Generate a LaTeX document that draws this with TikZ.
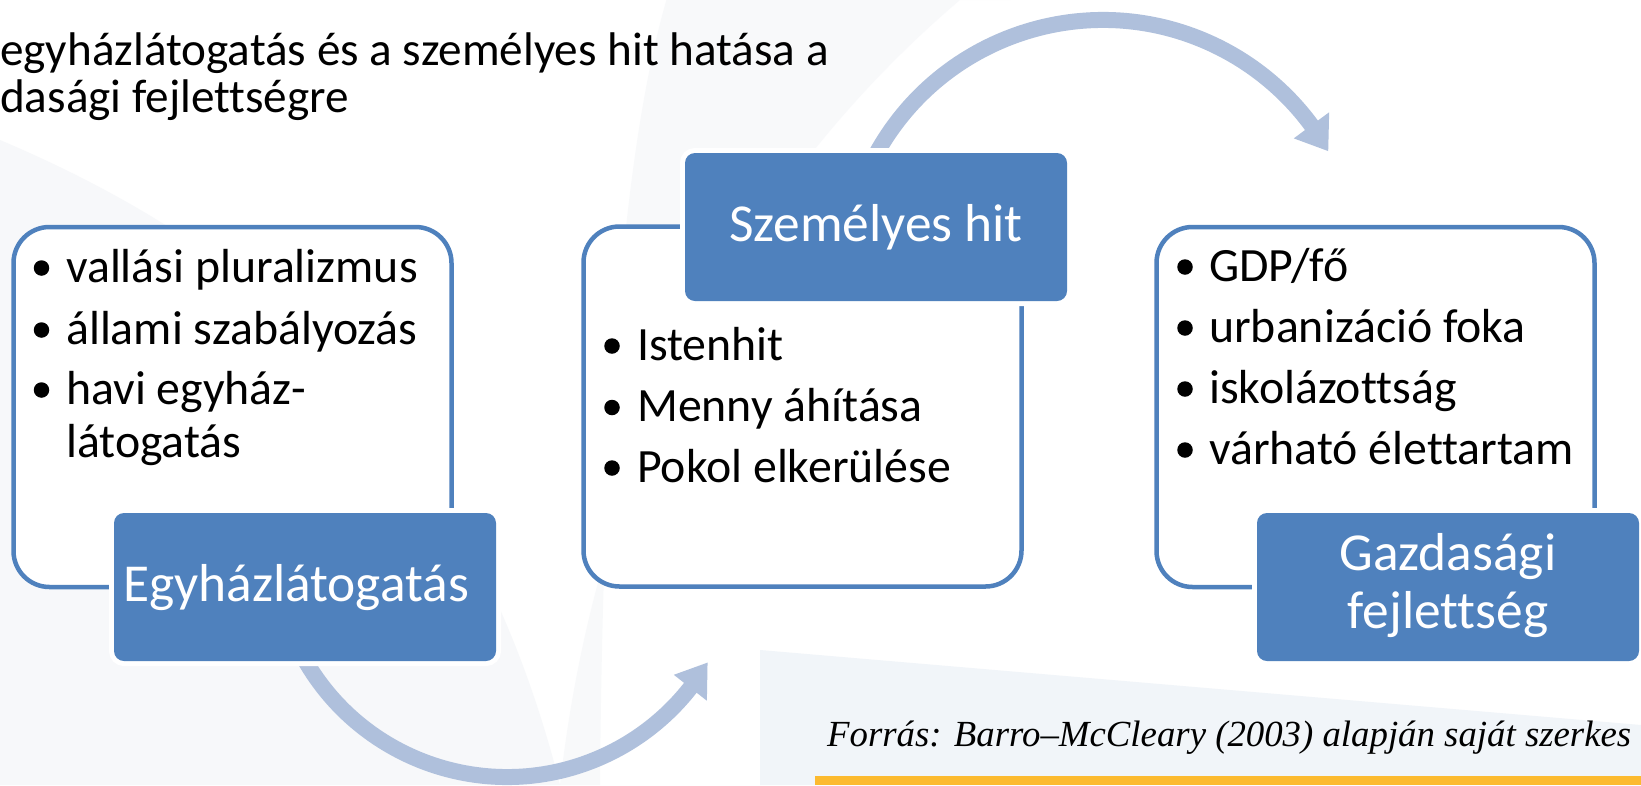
\documentclass[tikz,border=0pt]{standalone}
\usepackage{fontspec}
\setmainfont{Carlito}[Ligatures={NoCommon}]
\newfontfamily\srcfont{Liberation Serif}
\usetikzlibrary{arrows.meta}
\definecolor{accblue}{HTML}{4F81BD}
\definecolor{arcblue}{HTML}{AFC0DC}
\definecolor{barorange}{HTML}{FCBA2F}
\definecolor{bgshade}{HTML}{F2F4F7}
\definecolor{bgshadeb}{HTML}{F1F5F9}
\begin{document}
\begin{tikzpicture}[x=1pt,y=1pt,
  wbox/.style={draw=accblue, line width=4.5pt, fill=white, rounded corners=36pt,
    minimum width=438pt, minimum height=360pt, inner sep=0pt},
  bbox/.style={fill=accblue, rounded corners=10pt, minimum width=382pt,
    minimum height=148pt, inner sep=0pt, preaction={draw=white, line width=10pt}},
  btitle/.style={anchor=base, inner sep=0pt, text=white, font=\fontsize{53.4}{58}\selectfont},
  itemtxt/.style={anchor=base west, inner sep=0pt, font=\fontsize{47.8}{52}\selectfont},
  ttltxt/.style={anchor=base west, inner sep=0pt, font=\fontsize{47.2}{52}\selectfont},
  bul/.style={circle, fill=black, inner sep=0pt, minimum size=15.5pt},
  arcline/.style={draw=arcblue, line width=16pt},
  archead/.style={fill=arcblue}]
\useasboundingbox (0,0) rectangle (1641,-785);
\fill[white] (0,0) rectangle (1641,-785);
% subtle background swooshes
\begin{scope}
\clip (0,0) rectangle (1641,-785);
\fill[bgshade, opacity=0.6] (0,-140) .. controls (260,-250) and (470,-430) .. (560,-785) -- (0,-785) -- cycle;
\fill[bgshade, opacity=0.5] (1010,0) .. controls (800,170) and (610,420) .. (600,-785) -- (560,-785) .. controls (600,-430) and (760,-170) .. (960,0) -- cycle;
\fill[bgshadeb] (760,-650) -- (1641,-725) -- (1641,-785) -- (760,-785) -- cycle;
\end{scope}
% title
\node[ttltxt] (t1) at (0,-65) {egyházlátogatás és a személyes hit hatása a};
\node[ttltxt] (t2) at (0,-112) {dasági fejlettségre};
% arc connectors
\coordinate (c1) at (1103,-279);
\coordinate (c2) at (507,-544);
\coordinate (a1s) at ([shift={(c1)}]155:259);
\coordinate (a2s) at ([shift={(c2)}]205:233);
\draw[arcline] (a1s) arc[start angle=155, end angle=35.5, radius=259];
\fill[archead] ([shift={(c1)}]29.6:259) -- ([shift={(c1)}]36.4:237) -- ([shift={(c1)}]36.4:281) -- cycle;
\draw[arcline] (a2s) arc[start angle=205, end angle=323, radius=233];
\fill[archead] ([shift={(c2)}]-30.6:233) -- ([shift={(c2)}]-38.1:212) -- ([shift={(c2)}]-38.1:254) -- cycle;
% white boxes
\node[wbox] (lbox) at (232.5,-407) {};
\node[wbox] (mbox) at (802.5,-406.5) {};
\node[wbox] (rbox) at (1375.5,-407) {};
% blue boxes
\node[bbox] (lhead) at (305,-587) {};
\node[bbox] (mhead) at (876,-227) {};
\node[bbox] (rhead) at (1448,-587) {};
\node[btitle] (lheadt) at (296,-601) {Egyházlátogatás};
\node[btitle] (mheadt) at (876,-241) {Személyes hit};
\node[btitle] (rheadt1) at (1448,-570) {Gazdasági};
\node[btitle] (rheadt2) at (1448,-628) {fejlettség};
% left items
\node[bul] (lb1) at (41.5,-268) {};
\node[itemtxt] (li1) at (66,-282) {vallási pluralizmus};
\node[bul] (lb2) at (41.5,-330) {};
\node[itemtxt] (li2) at (66,-344) {állami szabályozás};
\node[bul] (lb3) at (41.5,-390) {};
\node[itemtxt] (li3) at (66,-404) {havi egyház-};
\node[itemtxt] (li3b) at (66,-457) {látogatás};
% middle items
\node[bul] (mb1) at (612,-346) {};
\node[itemtxt] (mi1) at (637,-360) {Istenhit};
\node[bul] (mb2) at (612,-407.5) {};
\node[itemtxt] (mi2) at (637,-421.5) {Menny áhítása};
\node[bul] (mb3) at (612,-468) {};
\node[itemtxt] (mi3) at (637,-482) {Pokol elkerülése};
% right items
\node[bul] (rb1) at (1185,-267) {};
\node[itemtxt] (ri1) at (1209,-281) {GDP/fő};
\node[bul] (rb2) at (1185,-328) {};
\node[itemtxt] (ri2) at (1209,-342) {urbanizáció foka};
\node[bul] (rb3) at (1185,-389) {};
\node[itemtxt] (ri3) at (1209,-403) {iskolázottság};
\node[bul] (rb4) at (1185,-450) {};
\node[itemtxt] (ri4) at (1209,-464) {várható élettartam};
% source and bar
\node[anchor=base west, inner sep=0pt, font=\srcfont\itshape\fontsize{36.8}{40}\selectfont] (src) at (827,-746) {Forrás: Barro–McCleary (2003) alapján saját szerkes};
\fill[barorange] (815,-776) rectangle (1641,-785);
\end{tikzpicture}
\end{document}
